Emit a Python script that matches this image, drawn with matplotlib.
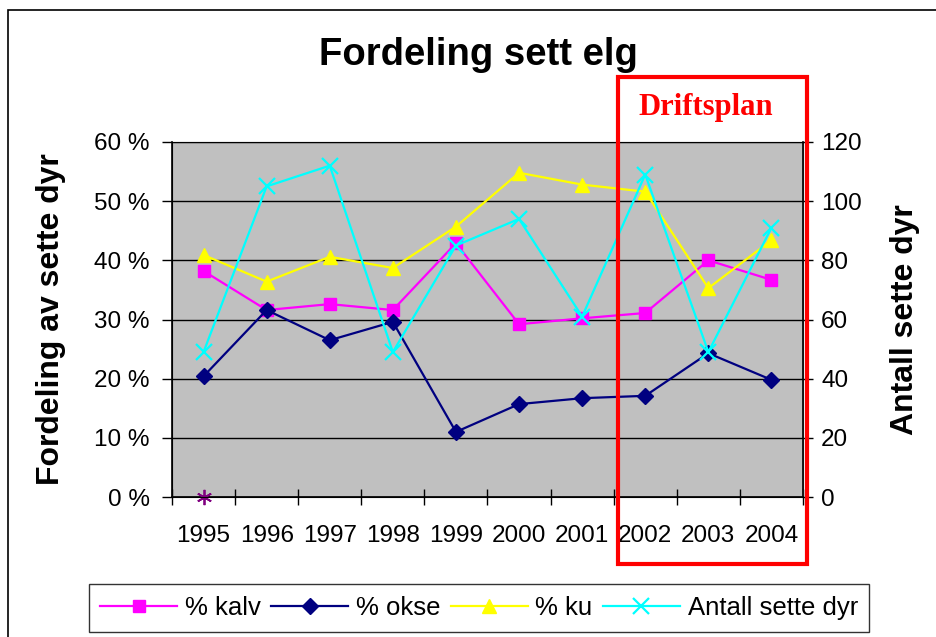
"""Fordeling sett elg — recreation of the Excel-style dual-axis line chart."""

import matplotlib

matplotlib.use("Agg")
import matplotlib.pyplot as plt
from matplotlib.patches import Rectangle
from matplotlib.ticker import FuncFormatter, MultipleLocator
import numpy as np

plt.rcParams["font.family"] = ["Liberation Sans", "DejaVu Sans"]

# ---------------------------------------------------------------------------
# Data
# ---------------------------------------------------------------------------
years = ["1995", "1996", "1997", "1998", "1999", "2000", "2001", "2002", "2003", "2004"]
pct_kalv = [38.2, 31.6, 32.6, 31.6, 42.9, 29.2, 30.2, 31.1, 40.0, 36.7]
pct_okse = [20.4, 31.6, 26.5, 29.6, 11.0, 15.7, 16.7, 17.1, 24.3, 19.8]
pct_ku = [40.9, 36.4, 40.6, 38.7, 45.7, 54.8, 52.8, 51.6, 35.3, 43.4]
antall_sette = [49, 105, 112, 49, 85, 94, 61, 109, 49, 91]
stray_point = [0.0]  # lone purple marker at 1995, not in legend

x = np.arange(len(years))

fig = plt.figure(figsize=(9.37, 6.37), dpi=100)
W, H = 937, 637


def fx(px):
    return px / W


def fy(py):
    return 1 - py / H


ax = fig.add_axes([fx(172), fy(497), fx(803) - fx(172), fy(142) - fy(497)])
ax.set_facecolor("#C0C0C0")
ax.set_xlim(-0.5, len(years) - 0.5)
ax.set_ylim(0, 60)
ax.yaxis.set_major_locator(MultipleLocator(10))
ax.yaxis.set_major_formatter(FuncFormatter(lambda v, _: f"{v:.0f} %"))
ax.grid(axis="y", color="black", linewidth=1.0)
ax.set_axisbelow(True)

ax.set_xticks(x)
ax.set_xticklabels(years)
ax.set_xticks(np.arange(-0.5, len(years), 1.0), minor=True)
ax.tick_params(axis="x", which="major", length=0, pad=20, labelsize=17.5)
ax.tick_params(axis="x", which="minor", length=12, width=1.0, direction="inout")
ax.tick_params(axis="y", length=7, width=1.0, pad=9, labelsize=17.5)

for side in ("top", "right"):
    ax.spines[side].set_color("#808080")
ax.spines["left"].set_linewidth(1.2)
ax.spines["bottom"].set_linewidth(1.2)

ax.plot(x, pct_kalv, color="#FF00FF", marker="s", markersize=9, linewidth=1.6,
        label="% kalv", zorder=3)
ax.plot(x, pct_okse, color="#000080", marker="D", markersize=8, linewidth=1.6,
        label="% okse", zorder=3)
ax.plot(x, pct_ku, color="#FFFF00", marker="^", markersize=10, linewidth=1.6,
        label="% ku", zorder=3)
ax.plot(x[:1], stray_point, color="#800080", marker=(6, 2, 0), markersize=11,
        linestyle="none", markeredgewidth=1.3, zorder=4, clip_on=False)

ax2 = ax.twinx()
ax2.set_ylim(0, 120)
ax2.yaxis.set_major_locator(MultipleLocator(20))
ax2.tick_params(axis="y", length=7, width=1.0, pad=6, labelsize=17.5)
ax2.spines["right"].set_color("black")
ax2.spines["right"].set_linewidth(1.2)
ax2.plot(x, antall_sette, color="#00FFFF", marker="x", markersize=11,
         markeredgewidth=1.6, linewidth=1.6, label="Antall sette dyr", zorder=3)

ax.set_ylabel("Fordeling av sette dyr", fontsize=23, fontweight="bold", labelpad=20)
ax2.set_ylabel("Antall sette dyr", fontsize=23, fontweight="bold", labelpad=20)

fig.text(fx(478), fy(55), "Fordeling sett elg", ha="center", va="center",
         fontsize=27.5, fontweight="bold")

# outer chart frame
fig.patches.append(Rectangle((fx(8), fy(700)), fx(1000), fy(10) - fy(700),
                             transform=fig.transFigure, fill=False,
                             edgecolor="black", linewidth=1.2))

# "Driftsplan" box
fig.patches.append(Rectangle((fx(618), fy(564)), fx(807) - fx(618), fy(77) - fy(564),
                             transform=fig.transFigure, fill=False,
                             edgecolor="#FF0000", linewidth=3.0, zorder=10))
fig.text(fx(706), fy(108), "Driftsplan", ha="center", va="center", color="#FF0000",
         fontsize=22, fontweight="bold", family=["Liberation Serif", "DejaVu Serif"])

handles = ax.get_lines()[:3] + ax2.get_lines()
labels = [h.get_label() for h in handles]
leg = fig.legend(handles, labels, ncol=4, loc="center",
                 bbox_to_anchor=(fx(479), fy(608)), fontsize=18.5, frameon=True,
                 fancybox=False, edgecolor="black", handlelength=3.0,
                 handletextpad=0.3, columnspacing=0.4, borderpad=0.45)
leg.get_frame().set_linewidth(1.0)

fig.savefig("out.png", dpi=100)
